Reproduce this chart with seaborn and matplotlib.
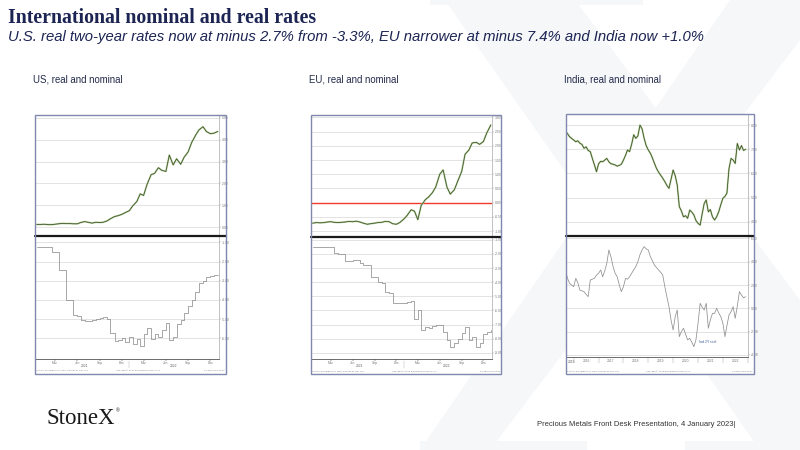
import matplotlib
matplotlib.use("Agg")
import matplotlib.pyplot as plt
import matplotlib.dates as mdates
import matplotlib.transforms as mtrans
from matplotlib.patches import Polygon, Rectangle
from matplotlib.lines import Line2D
import pandas as pd
import seaborn as sns

# ---- data ----
# US and EU: semi-monthly points, Dec 2020 .. Jan 2023
us_eu_dates = pd.date_range("2020-12-15", "2023-01-01", freq="SMS")

us_nominal = [0.12,
              0.12, 0.13, 0.11, 0.11, 0.13, 0.15, 0.17, 0.16, 0.16, 0.15, 0.15, 0.21,
              0.25, 0.22, 0.18, 0.22, 0.21, 0.22, 0.28, 0.38, 0.48, 0.52, 0.58, 0.66,
              0.75, 0.97, 1.17, 1.52, 1.45, 1.95, 2.40, 2.46, 2.72, 2.60, 2.55, 3.30,
              2.85, 3.13, 2.88, 3.20, 3.45, 3.87, 4.20, 4.45, 4.60, 4.38, 4.28, 4.30,
              4.38]
us_real = [-1.25,
           -1.26, -1.26, -1.26, -1.50, -1.52, -2.45, -2.45, -4.00, -4.02, -4.80, -4.82, -5.05,
           -5.10, -5.08, -5.05, -5.00, -4.95, -4.90, -5.00, -5.70, -6.15, -6.10, -6.00, -6.20,
           -5.95, -6.30, -6.05, -6.40, -5.80, -5.45, -6.05, -5.80, -5.95, -5.55, -5.20, -6.10,
           -5.95, -5.25, -5.05, -4.70, -4.30, -4.00, -3.60, -3.10, -3.00, -2.80, -2.75, -2.70,
           -2.70]

eu_nominal = [-0.72,
              -0.70, -0.71, -0.70, -0.68, -0.67, -0.69, -0.70, -0.69, -0.68, -0.66, -0.67, -0.65,
              -0.68, -0.72, -0.76, -0.74, -0.72, -0.70, -0.69, -0.66, -0.67, -0.74, -0.76, -0.70,
              -0.58, -0.45, -0.25, -0.30, -0.60, -0.10, 0.10, 0.20, 0.35, 0.55, 1.00, 1.15,
              0.55, 0.30, 0.45, 0.75, 1.10, 1.70, 1.85, 2.10, 2.12, 2.05, 2.15, 2.45,
              2.73]
eu_real = [-1.50,
           -1.50, -1.52, -1.50, -1.52, -1.50, -1.95, -2.00, -1.98, -2.50, -2.52, -2.45, -2.40,
           -2.65, -2.80, -2.82, -3.60, -3.62, -4.00, -4.05, -4.70, -4.75, -5.50, -5.48, -5.45,
           -5.50, -5.40, -5.35, -6.60, -6.00, -7.40, -7.20, -7.25, -7.10, -7.00, -7.05, -7.50,
           -8.10, -8.60, -8.30, -8.00, -7.60, -7.20, -8.10, -7.90, -8.60, -8.30, -7.70, -7.50,
           -7.35]

# India: monthly, Sep 2015 .. Dec 2022
india_dates = pd.date_range("2015-09-01", "2022-12-01", freq="MS")
india_nominal = [7.75, 7.65, 7.52, 7.45,
                 7.38, 7.31, 7.35, 7.25, 7.20, 7.04, 7.10, 6.95, 6.90, 6.62, 6.35, 6.07,
                 6.40, 6.50, 6.48, 6.55, 6.62, 6.48, 6.40, 6.38, 6.35, 6.30, 6.33, 6.38,
                 6.55, 6.75, 6.97, 6.90, 7.20, 7.60, 7.45, 7.55, 8.00, 7.85, 7.45, 7.15,
                 6.97, 6.83, 6.65, 6.42, 6.21, 6.05, 5.93, 5.80, 5.66, 5.50, 5.38, 5.75,
                 6.14, 5.90, 5.52, 4.62, 4.45, 4.20, 4.25, 4.14, 4.48, 4.40, 4.28, 4.05,
                 3.93, 3.86, 4.30, 4.75, 4.90, 4.41, 4.50, 4.20, 4.07, 4.20, 4.41, 4.70,
                 4.97, 5.05, 5.18, 6.20, 6.62, 6.55, 6.41, 7.24, 6.97, 7.15, 6.95, 7.00]
india_real = [3.30, 2.60, 2.15, 2.00,
              1.86, 2.57, 2.20, 1.57, 1.50, 1.43, 1.20, 1.00, 2.43, 2.50, 2.57, 2.85,
              3.00, 3.29, 2.71, 3.20, 3.86, 5.00, 4.43, 3.60, 3.00, 2.71, 2.00, 1.43,
              1.86, 2.57, 2.50, 2.71, 3.00, 3.30, 3.57, 4.00, 4.60, 5.00, 5.29, 5.10,
              5.00, 4.43, 4.10, 3.71, 3.50, 3.29, 3.10, 2.86, 1.86, 1.00, 0.14, -1.00,
              -1.86, -0.71, -0.14, -2.43, -2.00, -1.71, -2.20, -2.71, -2.57, -2.90, -3.29, -2.71,
              -1.29, 0.43, 0.10, -0.14, 0.43, -1.71, -1.00, -0.43, -0.43, 0.00, -0.40, -0.71,
              -1.29, -2.43, -1.50, -0.57, -0.29, 0.14, -0.86, 0.20, 1.43, 1.14, 0.90, 1.00]

title = "International nominal and real rates"
subtitle = ("U.S. real two-year rates now at minus 2.7% from -3.3%, "
            "EU narrower at minus 7.4% and India now +1.0%")
panel_titles = ["US, real and nominal", "EU, real and nominal", "India, real and nominal"]

# ---- figure ----
sns.set_theme(style="white")
plt.rcParams["font.family"] = ["Liberation Sans", "DejaVu Sans"]

W, H = 800, 450
fig = plt.figure(figsize=(8, 4.5), dpi=100)
fig.patch.set_facecolor("white")


def fx(px):
    return px / W


def fy(py):
    return 1 - py / H


navy = "#1c2453"
wm = "#f6f7f9"

# faint X watermark
watermark = [
    [(445, 0), (575, 0), (800, 300), (800, 450), (760, 450)],
    [(730, 0), (800, 0), (800, 40), (490, 450), (420, 450)],
    [(430, 0), (643, 0), (643, 5), (430, 5)],
    [(420, 441), (587, 441), (587, 450), (420, 450)],
    [(685, 441), (800, 441), (800, 450), (685, 450)],
]
for pts in watermark:
    fig.add_artist(Polygon([(fx(x), fy(y)) for x, y in pts], closed=True,
                           transform=fig.transFigure, facecolor=wm,
                           edgecolor="none", zorder=-10))

fig.text(fx(8), fy(18), title, family=["Liberation Serif", "DejaVu Serif"],
         weight="bold", fontsize=14.3, color=navy, va="center")
fig.text(fx(8), fy(37), subtitle, style="italic", fontsize=10.7, color=navy, va="center")

small = dict(fontsize=2.4, color="#666666")


def style_axis(ax, ylim, yticks, xlim):
    ax.set_facecolor("white")
    ax.set_xlim(xlim)
    ax.set_ylim(ylim)
    ax.set_yticks(yticks)
    ax.set_yticklabels([f"{t:.2f}" for t in yticks])
    ax.yaxis.tick_right()
    ax.tick_params(axis="y", labelsize=2.4, labelcolor="#777777", length=1.5,
                   width=0.3, color="#999999", pad=0.8, right=True)
    ax.grid(axis="y", color="#dedede", lw=0.6)
    ax.set_axisbelow(True)
    for s in ["left", "top", "bottom"]:
        ax.spines[s].set_visible(False)
    ax.spines["right"].set_color("#aaaaaa")
    ax.spines["right"].set_linewidth(0.5)
    ax.set_xlabel("")
    ax.set_ylabel("")


def panel(left, plot_right, right, top, sep, bottom, border_bottom,
          dates, top_vals, bot_vals, top_lim, top_ticks, bot_lim, bot_ticks,
          xlim, label, steps, years_mode, zero_line=False):
    fig.add_artist(Rectangle((fx(left), fy(border_bottom)), (right - left) / W,
                             (border_bottom - top) / H, transform=fig.transFigure,
                             facecolor="white", edgecolor="none", zorder=-5))
    fig.text(fx(left - 2), fy(80), label, fontsize=6.9, color="#222a4a", va="center")

    ax1 = fig.add_axes([fx(left), fy(sep), (plot_right - left) / W, (sep - top) / H])
    ax2 = fig.add_axes([fx(left), fy(bottom), (plot_right - left) / W, (bottom - sep) / H])

    if zero_line:
        ax1.axhline(0, color="#f23a2c", lw=1.0)
    sns.lineplot(x=dates, y=top_vals, ax=ax1, color="#b9cfa2", lw=1.3, errorbar=None)
    sns.lineplot(x=dates, y=top_vals, ax=ax1, color="#3a5224", lw=0.55, errorbar=None)
    sns.lineplot(x=dates, y=bot_vals, ax=ax2, color="#8f8f8f", lw=0.55, errorbar=None,
                 drawstyle="steps-post" if steps else "default")

    style_axis(ax1, top_lim, top_ticks, xlim)
    style_axis(ax2, bot_lim, bot_ticks, xlim)
    ax1.set_xticks([])
    ax2.spines["bottom"].set_visible(True)
    ax2.spines["bottom"].set_color("#555555")
    ax2.spines["bottom"].set_linewidth(0.6)

    blend = mtrans.blended_transform_factory(ax2.transData, ax2.transAxes)
    if years_mode == "months":
        ax2.xaxis.set_major_locator(mdates.MonthLocator(bymonth=[3, 6, 9, 12]))
        ax2.xaxis.set_major_formatter(mdates.DateFormatter("%b"))
        ax2.tick_params(axis="x", labelsize=2.4, labelcolor="#777777", length=1.2,
                        width=0.3, pad=0.5, bottom=True)
        for yr in ["2021", "2022"]:
            ax2.text(pd.Timestamp(yr + "-07-01"), -0.058, yr, transform=blend,
                     ha="center", va="center", **small)
        ax2.plot([pd.Timestamp("2022-01-01")] * 2, [-0.02, -0.075], transform=blend,
                 color="#aaaaaa", lw=0.3, clip_on=False)
    else:
        ax2.xaxis.set_major_locator(mdates.YearLocator())
        ax2.xaxis.set_major_formatter(plt.NullFormatter())
        ax2.xaxis.set_minor_locator(mdates.MonthLocator(bymonth=7))
        ax2.xaxis.set_minor_formatter(mdates.DateFormatter("%Y"))
        ax2.tick_params(axis="x", which="major", length=4, width=0.3, color="#999999",
                        bottom=True)
        ax2.tick_params(axis="x", which="minor", length=0, labelsize=2.4,
                        labelcolor="#777777", pad=1.5, bottom=True)
        ax2.text(0.01, -0.04, "2015", transform=ax2.transAxes, ha="left",
                 va="center", **small)

    # footer row of source text
    fy_txt = fy(border_bottom - 3)
    fig.text(fx(left + 1), fy_txt, "Source: Bloomberg 2Y Govt Generic vs CPI YoY",
             fontsize=1.7, color="#777777", va="center")
    fig.text(fx((left + right) / 2 + 8), fy_txt, "Copyright\u00a9 2023 Bloomberg Finance L.P.",
             fontsize=1.7, color="#777777", va="center", ha="center")
    fig.text(fx(right - 1), fy_txt, "04-Jan-2023 10:52", fontsize=1.7, color="#777777",
             va="center", ha="right")

    # separator and border
    fig.add_artist(Line2D([fx(left), fx(right)], [fy(sep), fy(sep)],
                          transform=fig.transFigure, color="#1a1a1a", lw=1.6, zorder=6))
    fig.add_artist(Rectangle((fx(left), fy(border_bottom)), (right - left) / W,
                             (border_bottom - top) / H, transform=fig.transFigure,
                             facecolor="none", edgecolor="#8088ad", lw=1.0, zorder=7))
    return ax1, ax2


us_xlim = (pd.Timestamp("2020-12-08"), pd.Timestamp("2023-01-06"))

panel(35, 219, 226, 114.5, 236, 359, 373.5, us_eu_dates, us_nominal, us_real,
      (-0.41, 5.16), [0, 1, 2, 3, 4, 5], (-7.08, -0.67), [-1, -2, -3, -4, -5, -6],
      us_xlim, panel_titles[0], True, "months")

panel(311, 492, 501, 114.5, 236.5, 358.5, 374, us_eu_dates, eu_nominal, eu_real,
      (-1.19, 3.1), [-1.0, -0.5, 0, 0.5, 1.0, 1.5, 2.0, 2.5, 3.0],
      (-9.4, -0.77), [-1, -2, -3, -4, -5, -6, -7, -8, -9],
      us_xlim, panel_titles[1], True, "months", zero_line=True)

india_xlim = (pd.Timestamp("2015-09-10"), pd.Timestamp("2023-01-05"))
_, ax_in_bot = panel(566, 748, 754, 113.5, 235.7, 356.7, 374, india_dates, india_nominal,
                     india_real, (3.42, 8.48), [4, 5, 6, 7, 8], (-4.15, 6.23),
                     [6, 4, 2, 0, -2, -4], india_xlim, panel_titles[2], False, "years")
ax_in_bot.text(pd.Timestamp("2021-01-20"), -3.0, "Ind 2Y real", fontsize=2.6, color="#3a5a9a")

# logo and footer
fig.text(fx(47), fy(418), "StoneX", family=["Liberation Serif", "DejaVu Serif"],
         fontsize=16.5, color="#1a1a1a", va="center")
fig.text(fx(116), fy(411), "\u00ae", fontsize=3.5, color="#1a1a1a", va="center")
fig.text(fx(537), fy(424), "Precious Metals Front Desk Presentation, 4 January 2023|",
         fontsize=5.5, color="#333333", va="center")

fig.savefig("out.png", dpi=100)
